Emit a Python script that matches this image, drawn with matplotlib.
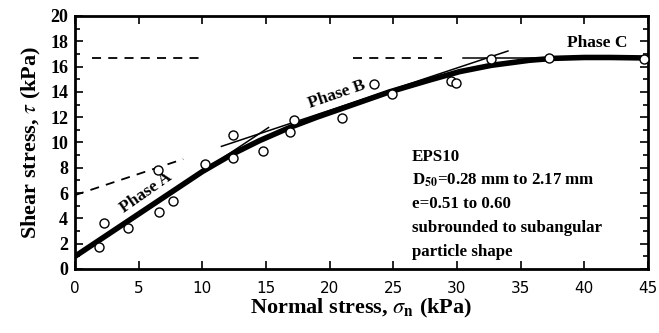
import matplotlib
matplotlib.use("Agg")
import matplotlib.pyplot as plt
from matplotlib.ticker import MultipleLocator

plt.rcParams["mathtext.fontset"] = "stix"

# measured points (normal stress, shear stress), kPa
sigma_n = [1.9, 2.3, 4.2, 6.5, 6.6, 7.7, 10.2, 12.4, 12.4, 14.8,
           16.9, 17.2, 21.0, 23.5, 24.9, 29.5, 29.9, 32.7, 37.2, 44.7]
tau = [1.7, 3.65, 3.25, 7.85, 4.5, 5.4, 8.3, 10.6, 8.8, 9.35,
       10.85, 11.75, 11.95, 14.6, 13.8, 14.9, 14.7, 16.6, 16.7, 16.6]

# fitted failure envelope
fit_x = [0, 5, 10, 12.4, 14.5, 16.9, 19, 21, 24.7, 27.9, 30.2, 32.7, 35.7, 37.6, 40, 42, 45]
fit_y = [1.0, 4.35, 7.7, 9.1, 10.15, 11.2, 12.0, 12.7, 14.0, 14.95, 15.6, 16.1, 16.5, 16.65, 16.72, 16.72, 16.68]

# phase lines: y = a + b*x
phaseA = (1.0, 0.67)
phaseB = (5.84, 0.335)
phaseC = 16.7

fig = plt.figure(figsize=(6.59, 3.33), dpi=100)
ax = fig.add_axes([0.1138, 0.1922, 0.8695, 0.7598])

serif = "Liberation Serif"

def line(p, x0, x1):
    return [x0, x1], [p[0] + p[1] * x0, p[0] + p[1] * x1]

# phase A extension
xs, ys = line(phaseA, 9.5, 15.2)
ax.plot(xs, ys, color="black", lw=1.1)
# phase B
xs, ys = line(phaseB, 0, 8.5)
ax.plot(xs, ys, color="black", lw=1.3, dashes=(5, 4))
xs, ys = line(phaseB, 11.5, 34)
ax.plot(xs, ys, color="black", lw=1.1)
# phase C
ax.plot([1.3, 9.8], [phaseC, phaseC], color="black", lw=1.3, dashes=(5, 4))
ax.plot([21.8, 28.8], [phaseC, phaseC], color="black", lw=1.3, dashes=(5, 4))
ax.plot([30.5, 45], [phaseC, phaseC], color="black", lw=1.1)

ax.plot(fit_x, fit_y, color="black", lw=4, solid_capstyle="butt")
ax.plot(sigma_n, tau, "o", ms=6.5, mfc="white", mec="black", mew=1.0, clip_on=False, zorder=5)

ax.set_xlim(0, 45)
ax.set_ylim(0, 20)
ax.xaxis.set_major_locator(MultipleLocator(5))
ax.yaxis.set_major_locator(MultipleLocator(2))
ax.yaxis.set_minor_locator(MultipleLocator(1))
ax.tick_params(which="both", direction="in", top=True, right=True, width=1.2)
ax.tick_params(which="major", length=6)
ax.tick_params(which="minor", length=3.5)
ax.tick_params(axis="x", which="major", pad=9)
ax.tick_params(axis="y", which="major", pad=5)
for s in ax.spines.values():
    s.set_linewidth(2)

for lab in ax.get_yticklabels():
    lab.set_fontfamily(serif)
    lab.set_fontweight("bold")
    lab.set_fontsize(13)
for lab in ax.get_xticklabels():
    lab.set_fontfamily("DejaVu Sans")
    lab.set_fontsize(11)

ax.set_ylabel(r"Shear stress, $\tau$ (kPa)", family=serif, fontweight="bold", fontsize=16, labelpad=5)
ax.set_xlabel(r"Normal stress, $\sigma_{\mathbf{n}}$ (kPa)", family=serif, fontweight="bold", fontsize=16, labelpad=0)

ax.text(5.6, 6.0, "Phase A", rotation=35, family=serif, fontweight="bold", fontsize=12.5,
        ha="center", va="center")
ax.text(20.6, 13.8, "Phase B", rotation=19, family=serif, fontweight="bold", fontsize=12.5,
        ha="center", va="center")
ax.text(41.0, 17.86, "Phase C", family=serif, fontweight="bold", fontsize=12.5,
        ha="center", va="center")

info = ["EPS10", r"D$_{\mathbf{50}}$=0.28 mm to 2.17 mm", "e=0.51 to 0.60",
        "subrounded to subangular", "particle shape"]
for i, t in enumerate(info):
    ax.text(26.45, 8.86 - i * 1.87, t, family=serif, fontweight="bold", fontsize=12.2,
            ha="left", va="center")

fig.savefig("out.png", dpi=100)
